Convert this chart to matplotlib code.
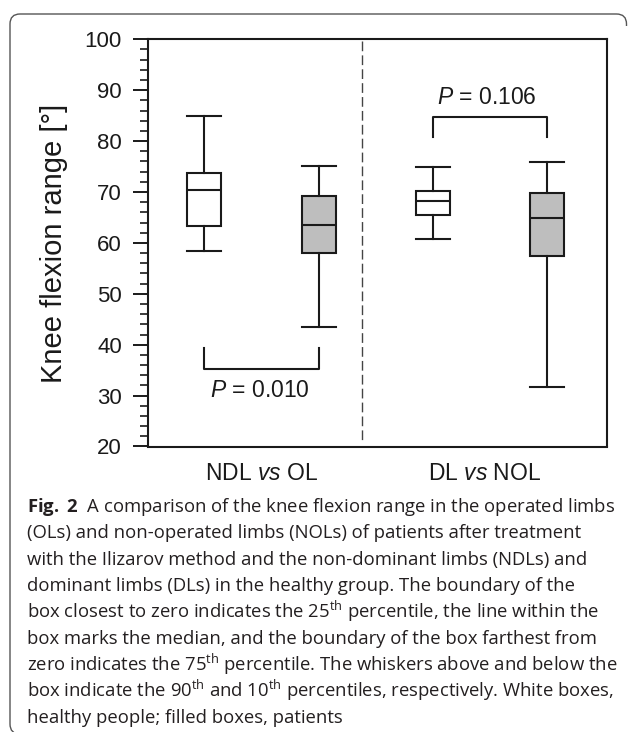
import matplotlib
matplotlib.use('Agg')
import matplotlib.pyplot as plt
from matplotlib.path import Path
from matplotlib.patches import PathPatch
from matplotlib.ticker import MultipleLocator

# fonts: chart in Arial-like, caption in a humanist sans
plt.rcParams['font.family'] = ['Liberation Sans', 'DejaVu Sans']
plt.rcParams['mathtext.fontset'] = 'custom'
plt.rcParams['mathtext.rm'] = 'Open Sans'
plt.rcParams['mathtext.bf'] = 'Open Sans:bold'
plt.rcParams['mathtext.it'] = 'Liberation Sans:italic'

# data
groups = ['NDL', 'OL', 'DL', 'NOL']
p10 = [58.5, 43.5, 60.8, 31.6]
q1 = [63.3, 58.1, 65.5, 57.5]
med = [70.3, 63.5, 68.2, 64.9]
q3 = [73.7, 69.2, 70.1, 69.9]
p90 = [84.9, 75.1, 74.9, 75.8]
fills = ['white', '#bebebe', 'white', '#bebebe']
pair_labels = [r'NDL $\mathit{vs}$ OL', r'DL $\mathit{vs}$ NOL']
p_texts = [r'$\mathit{P}$ = 0.010', r'$\mathit{P}$ = 0.106']

caption = [
    r'$\mathbf{Fig.\ 2}$  A comparison of the knee flexion range in the operated limbs',
    '(OLs) and non-operated limbs (NOLs) of patients after treatment',
    'with the Ilizarov method and the non-dominant limbs (NDLs) and',
    'dominant limbs (DLs) in the healthy group. The boundary of the',
    r'box closest to zero indicates the 25$^{\mathrm{th}}$ percentile, the line within the',
    'box marks the median, and the boundary of the box farthest from',
    r'zero indicates the 75$^{\mathrm{th}}$ percentile. The whiskers above and below the',
    r'box indicate the 90$^{\mathrm{th}}$ and 10$^{\mathrm{th}}$ percentiles, respectively. White boxes,',
    'healthy people; filled boxes, patients',
]

W, H = 629, 732
ink = '#1a1a1a'

fig = plt.figure(figsize=(W/100, H/100), dpi=100)
ax = fig.add_axes([148/W, 1-446.5/H, 458.7/W, 407.2/H])

stats = []
for i in range(len(groups)):
    stats.append(dict(label=groups[i], whislo=p10[i], q1=q1[i], med=med[i],
                      q3=q3[i], whishi=p90[i], fliers=[]))
pos = [1, 2, 3, 4]
bp = ax.bxp(stats, positions=pos, widths=0.3, capwidths=0.3, patch_artist=True,
            showfliers=False,
            boxprops=dict(linewidth=1.5, edgecolor=ink),
            medianprops=dict(color=ink, linewidth=1.5),
            whiskerprops=dict(color=ink, linewidth=1.5),
            capprops=dict(color=ink, linewidth=1.5))
for patch, c in zip(bp['boxes'], fills):
    patch.set_facecolor(c)

# separator
ax.plot([2.38, 2.38], [99.6, 21.3], color='#444444', lw=1, dashes=(7, 3))

# significance brackets
ax.plot([1, 1, 2, 2], [39.3, 35.2, 35.2, 39.3], color=ink, lw=1.5)
ax.text(1.487, 31.0, p_texts[0], ha='center', va='center', fontsize=16.5, color=ink)
ax.plot([3, 3, 4, 4], [80.9, 84.7, 84.7, 80.9], color=ink, lw=1.5)
ax.text(3.469, 88.5, p_texts[1], ha='center', va='center', fontsize=16.5, color=ink)

ax.set_xlim(0.507, 4.52)
ax.set_ylim(20, 100)
ax.yaxis.set_major_locator(MultipleLocator(10))
ax.yaxis.set_minor_locator(MultipleLocator(2))
ax.set_xticks([1.5, 3.45])
ax.set_xticklabels(pair_labels)
ax.tick_params(axis='x', length=0, pad=11, labelsize=16.5, colors=ink)
ax.tick_params(axis='y', which='major', length=10.8, width=1.4, pad=8,
               labelsize=16, colors=ink)
ax.tick_params(axis='y', which='minor', length=5.8, width=1.2, colors=ink)
for s in ax.spines.values():
    s.set_linewidth(1.5)
    s.set_color(ink)

ax.set_ylabel('Knee flexion range [°]', fontsize=21, color=ink)
ax.yaxis.set_label_coords(-0.174, 0.5)

# caption
for k, line in enumerate(caption):
    fig.text(27/W, 1-(512+26.4*k)/H, line, family='Open Sans', fontsize=13.3,
             color='#231f20', ha='left', va='baseline')

# rounded frame (top and left edges)
pts = [(626.5, 26), (626.5, 24), (626.5, 14), (616.5, 14), (20, 14), (10, 14),
       (10, 24), (10, 724), (10, 734), (20, 734)]
codes = [Path.MOVETO, Path.LINETO, Path.CURVE3, Path.CURVE3, Path.LINETO,
         Path.CURVE3, Path.CURVE3, Path.LINETO, Path.CURVE3, Path.CURVE3]
verts = [(x/W, 1-y/H) for x, y in pts]
fig.add_artist(PathPatch(Path(verts, codes), transform=fig.transFigure,
                         fill=False, edgecolor='#555555', lw=1))

fig.savefig('out.png', dpi=100)
